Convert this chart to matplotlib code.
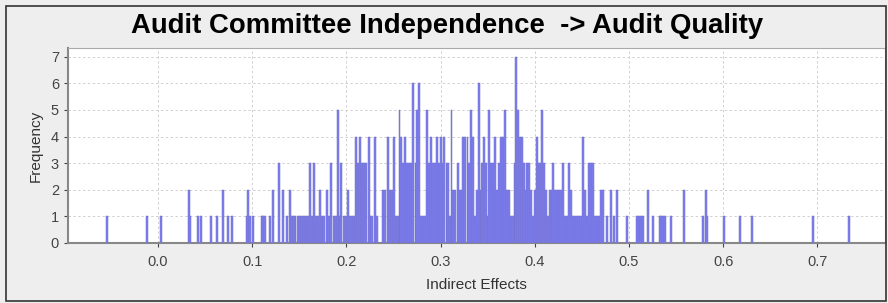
import numpy as np
import matplotlib.pyplot as plt
from matplotlib.patches import Rectangle

plt.rcParams['font.family'] = ['Liberation Sans', 'DejaVu Sans']

title = 'Audit Committee Independence  -> Audit Quality'

# bin centres (indirect effect) and their counts
centers = [
    -0.0545, -0.0114, 0.0029, 0.033, 0.0345, 0.042, 0.0453, 0.0563, 0.0626, 0.069,
    0.074, 0.0789, 0.0942, 0.0959, 0.0977, 0.1012, 0.110, 0.112, 0.1136, 0.1194,
    0.1226, 0.129, 0.1332, 0.1366, 0.140, 0.142, 0.144, 0.146, 0.1486, 0.151,
    0.153, 0.155, 0.157, 0.159, 0.161, 0.1635, 0.1653, 0.168, 0.170, 0.1715,
    0.174, 0.176, 0.179, 0.1815, 0.184, 0.187, 0.189, 0.191, 0.193, 0.1948,
    0.1975, 0.1996, 0.2017, 0.2038, 0.206, 0.208, 0.210, 0.2123, 0.2144, 0.2166,
    0.2187, 0.2208, 0.2237, 0.2256, 0.2277, 0.2304, 0.2325, 0.2394, 0.2415, 0.2442,
    0.2463, 0.2484, 0.2502, 0.2523, 0.2545, 0.2564, 0.2585, 0.2604, 0.2622, 0.2643,
    0.2665, 0.2686, 0.2712, 0.2734, 0.2753, 0.2774, 0.2792, 0.2813, 0.2834, 0.2856,
    0.2877, 0.2898, 0.2919, 0.294, 0.2962, 0.2983, 0.3004, 0.3025, 0.3041, 0.3063,
    0.3084, 0.310, 0.3116, 0.3137, 0.3158, 0.318, 0.320, 0.3222, 0.3243, 0.3264,
    0.3286, 0.330, 0.3323, 0.3344, 0.3365, 0.3386, 0.3404, 0.3424, 0.3445, 0.3466,
    0.3487, 0.3503, 0.3519, 0.354, 0.3561, 0.3583, 0.3604, 0.362, 0.3641, 0.3662,
    0.3684, 0.3705, 0.3726, 0.3747, 0.3769, 0.3785, 0.380, 0.3825, 0.3843, 0.3864,
    0.3885, 0.390, 0.3917, 0.3938, 0.396, 0.398, 0.4002, 0.402, 0.4039, 0.406,
    0.408, 0.4098, 0.4119, 0.414, 0.4161, 0.4183, 0.4198, 0.422, 0.4241, 0.4262,
    0.4283, 0.4303, 0.432, 0.4342, 0.4363, 0.4384, 0.4406, 0.4427, 0.4448, 0.4469,
    0.449, 0.4515, 0.4533, 0.4554, 0.4575, 0.4597, 0.4618, 0.4639, 0.466, 0.4682,
    0.470, 0.4724, 0.4766, 0.4814, 0.484, 0.4873, 0.4979, 0.5085, 0.5106, 0.5127,
    0.5149, 0.5205, 0.5258, 0.5329, 0.5345, 0.5361, 0.538, 0.5443, 0.5584, 0.5789,
    0.5817, 0.5833, 0.6008, 0.6178, 0.6309, 0.6957, 0.7338,
]
counts = [
    1, 1, 1, 2, 1, 1, 1, 1, 1, 2,
    1, 1, 1, 2, 1, 1, 1, 1, 1, 1,
    2, 3, 2, 1, 2, 1, 1, 1, 1, 1,
    1, 1, 1, 1, 3, 1, 3, 1, 1, 2,
    1, 1, 2, 1, 3, 1, 1, 5, 1, 3,
    1, 1, 2, 1, 1, 1, 4, 3, 4, 3,
    3, 3, 4, 1, 1, 4, 1, 2, 2, 4,
    2, 2, 4, 1, 1, 5, 4, 3, 4, 3,
    3, 3, 6, 3, 5, 6, 1, 1, 1, 5,
    3, 4, 3, 3, 4, 3, 4, 3, 4, 3,
    3, 1, 5, 2, 2, 3, 2, 2, 4, 4,
    4, 3, 5, 4, 1, 2, 6, 2, 3, 4,
    3, 1, 5, 3, 3, 4, 2, 3, 4, 4,
    5, 2, 2, 1, 1, 3, 7, 5, 4, 4,
    3, 2, 3, 3, 2, 1, 2, 4, 3, 3,
    5, 3, 2, 1, 2, 2, 3, 2, 2, 2,
    2, 3, 1, 1, 3, 2, 1, 1, 1, 1,
    1, 4, 2, 1, 3, 3, 3, 1, 1, 1,
    2, 2, 1, 2, 1, 2, 1, 1, 1, 1,
    1, 2, 1, 1, 1, 1, 1, 1, 2, 1,
    2, 1, 1, 1, 1, 1, 1,
]

x_ticks = [0.0, 0.1, 0.2, 0.3, 0.4, 0.5, 0.6, 0.7]
y_ticks = [0, 1, 2, 3, 4, 5, 6, 7]

fig = plt.figure(figsize=(8.88, 3.03), dpi=100)
fig.patch.set_facecolor('#eeeeee')
fig.patches.append(Rectangle((6 / 888, 2 / 303), 880 / 888, 295 / 303,
                             transform=fig.transFigure, fill=False,
                             edgecolor='#333333', linewidth=1.2))

ax = fig.add_axes([68 / 888, 1 - 243 / 303, 817 / 888, 195 / 303])
ax.set_facecolor('white')

ax.bar(centers, counts, width=0.0021, color='#7c7cf4',
       edgecolor='#7272c0', linewidth=0.35, zorder=3)

ax.set_xlim(-0.0955, 0.7718)
ax.set_ylim(0, 7.33)
ax.set_xticks(x_ticks)
ax.set_xticklabels([f'{t:.1f}' for t in x_ticks])
ax.set_yticks(y_ticks)

ax.grid(True, color='#d0d0d0', linestyle=(0, (2.5, 2.5)), linewidth=0.7, zorder=0)
for s in ax.spines.values():
    s.set_color('#aaaaaa')
ax.spines['left'].set_linewidth(1.5)
ax.spines['bottom'].set_linewidth(1.5)
ax.spines['left'].set_color('#888888')
ax.spines['bottom'].set_color('#888888')
ax.tick_params(colors='#444444', labelsize=10.5, length=3, width=0.8)
ax.tick_params(axis='x', pad=6)

ax.set_xlabel('Indirect Effects', fontsize=11, color='#333333', labelpad=6)
ax.set_ylabel('Frequency', fontsize=11, color='#333333', labelpad=6)

fig.text(0.503, 0.915, title, ha='center', va='center',
         fontsize=19.8, fontweight='bold', color='black')

fig.savefig('out.png', dpi=100, facecolor=fig.get_facecolor())
